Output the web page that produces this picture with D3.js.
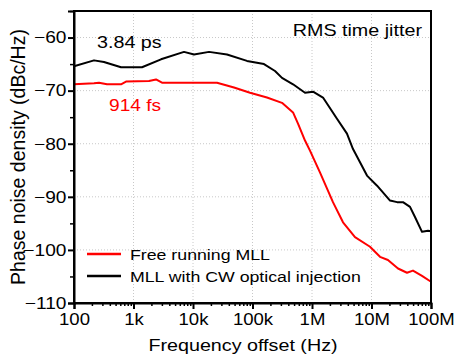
<!DOCTYPE html>
<html>
<head>
<meta charset="utf-8">
<script src="https://cdn.jsdelivr.net/npm/d3@7"></script>
<style>
  body { margin: 0; background: #fff; }
  svg { display: block; font-family: "Liberation Sans", Arial, sans-serif; }
</style>
</head>
<body>
<svg id="chart" width="454" height="356"></svg>
<script>
// phase noise traces (frequency in Hz, level in dBc/Hz)
const freqFree = [100, 217, 263, 359, 617, 748, 1820, 2390, 3010, 25300, 48900, 90800, 175000, 313000, 480000, 582000, 763000, 925000, 1.36e6, 2.25e6, 3.32e6, 5.28e6, 9.44e6, 1.39e7, 1.89e7, 2.79e7, 3.95e7, 4.98e7, 7.06e7, 1e8];
const pnFree = [-68.8, -68.6, -68.5, -68.8, -68.8, -68.3, -68.2, -67.9, -68.5, -68.5, -69.4, -70.4, -71.3, -72.3, -74.1, -76.2, -79.4, -81.3, -85.4, -91.0, -94.8, -97.6, -99.4, -101.3, -101.9, -103.5, -104.3, -103.9, -104.9, -106.0];

const freqInj = [100, 217, 319, 617, 1390, 2900, 7060, 10400, 18600, 37300, 80800, 156000, 239000, 313000, 480000, 763000, 1.04e6, 1.53e6, 2.63e6, 3.87e6, 4.89e6, 8.4e6, 1.24e7, 2.05e7, 2.69e7, 3.38e7, 4.44e7, 5.38e7, 7.06e7, 8.9e7, 1e8];
const pnInj = [-65.4, -64.3, -64.6, -65.6, -65.6, -64.1, -62.7, -63.2, -62.7, -63.2, -64.4, -65.0, -66.3, -67.6, -68.8, -70.4, -70.2, -71.3, -75.3, -78.1, -81.0, -86.0, -87.9, -90.7, -91.0, -91.0, -91.9, -93.8, -96.6, -96.4, -96.5];

const xTicks = [100, 1e3, 1e4, 1e5, 1e6, 1e7, 1e8];
const xTickLabels = ["100", "1k", "10k", "100k", "1M", "10M", "100M"];
const yTicks = [-110, -100, -90, -80, -70, -60];

const series = [
  { name: "Free running MLL", color: "#ff0000", freq: freqFree, pn: pnFree },
  { name: "MLL with CW optical injection", color: "#000000", freq: freqInj, pn: pnInj }
];

const svg = d3.select("#chart");
const plotL = 74, plotR = 431, plotT = 11, plotB = 303;
const sx = 1.16; // the figure's lettering is a bit wider than it is tall

const x = d3.scaleLog().domain([100, 1e8]).range([plotL, plotR]);
const y = d3.scaleLinear().domain([-110, -55]).range([plotB, plotT]);

// dotted grid
const grid = svg.append("g").attr("stroke", "#c8c8c8").attr("stroke-width", 1).attr("stroke-dasharray", "1,2");
grid.selectAll("line.gx").data(xTicks.slice(1, -1)).enter().append("line")
  .attr("x1", d => x(d)).attr("x2", d => x(d)).attr("y1", plotT).attr("y2", plotB);
grid.selectAll("line.gy").data(yTicks.slice(1)).enter().append("line")
  .attr("x1", plotL).attr("x2", plotR).attr("y1", d => y(d)).attr("y2", d => y(d));

// curves
const line = d3.line().x(d => x(d[0])).y(d => y(d[1]));
series.forEach(s => {
  svg.append("path")
    .datum(s.freq.map((f, i) => [f, s.pn[i]]))
    .attr("fill", "none")
    .attr("stroke", s.color)
    .attr("stroke-width", 2)
    .attr("stroke-linejoin", "round")
    .attr("d", line);
});

// minor ticks
let minorX = [];
for (let e = 2; e < 8; e++) for (let m = 2; m < 10; m++) minorX.push(m * Math.pow(10, e));
svg.append("g").attr("transform", `translate(0,${plotB})`)
  .call(d3.axisBottom(x).tickValues(minorX).tickSize(3).tickFormat(""))
  .call(g => g.select(".domain").remove())
  .selectAll("line").attr("stroke-width", 1.5);
svg.append("g").attr("transform", `translate(${plotL},0)`)
  .call(d3.axisLeft(y).tickValues([-105, -95, -85, -75, -65, -55]).tickSize(4).tickFormat(""))
  .call(g => g.select(".domain").remove())
  .selectAll("line").attr("stroke-width", 1.5);

// frame
svg.append("rect")
  .attr("x", plotL).attr("y", plotT)
  .attr("width", plotR - plotL).attr("height", plotB - plotT)
  .attr("fill", "none").attr("stroke", "#000").attr("stroke-width", 2);

// major axes
const xAxis = svg.append("g").attr("transform", `translate(0,${plotB})`)
  .call(d3.axisBottom(x).tickValues(xTicks).tickSize(6).tickPadding(5)
    .tickFormat((d, i) => xTickLabels[i]));
const yAxis = svg.append("g").attr("transform", `translate(${plotL},0)`)
  .call(d3.axisLeft(y).tickValues(yTicks).tickSize(6).tickPadding(1));
[xAxis, yAxis].forEach(g => {
  g.select(".domain").attr("stroke-width", 2);
  g.selectAll(".tick line").attr("stroke-width", 2);
  g.selectAll(".tick text").attr("font-size", 16).attr("fill", "#000")
    .attr("font-family", "Liberation Sans, Arial, sans-serif");
});
xAxis.selectAll(".tick text").attr("transform", `scale(${sx},1)`);
yAxis.selectAll(".tick text").attr("font-size", 16.5)
  .attr("transform", `scale(${sx},1)`).attr("x", -6.5);

// helper for the wide lettering
function label(txt, px, py, size, color, anchor) {
  return svg.append("text")
    .attr("transform", `translate(${px},${py}) scale(${sx},1)`)
    .attr("font-size", size).attr("fill", color)
    .attr("text-anchor", anchor || "start")
    .text(txt);
}

label("Frequency offset (Hz)", 243, 351, 17, "#000", "middle");
svg.append("text")
  .attr("transform", `translate(25,157) rotate(-90)`)
  .attr("font-size", 19.5).attr("text-anchor", "middle")
  .text("Phase noise density (dBc/Hz)");

label("RMS time jitter", 422, 36, 17, "#000", "end");
label("3.84 ps", 97, 48, 17, "#000");
label("914 fs", 109, 111, 16.5, "#ff0000");

// legend
const leg = svg.append("g");
series.forEach((s, i) => {
  const ly = 254 + i * 22;
  leg.append("line").attr("x1", 87).attr("x2", 121).attr("y1", ly).attr("y2", ly)
    .attr("stroke", s.color).attr("stroke-width", 2.5);
  label(s.name, 130, ly + 5.5, 15.3, "#000");
});
</script>
</body>
</html>
